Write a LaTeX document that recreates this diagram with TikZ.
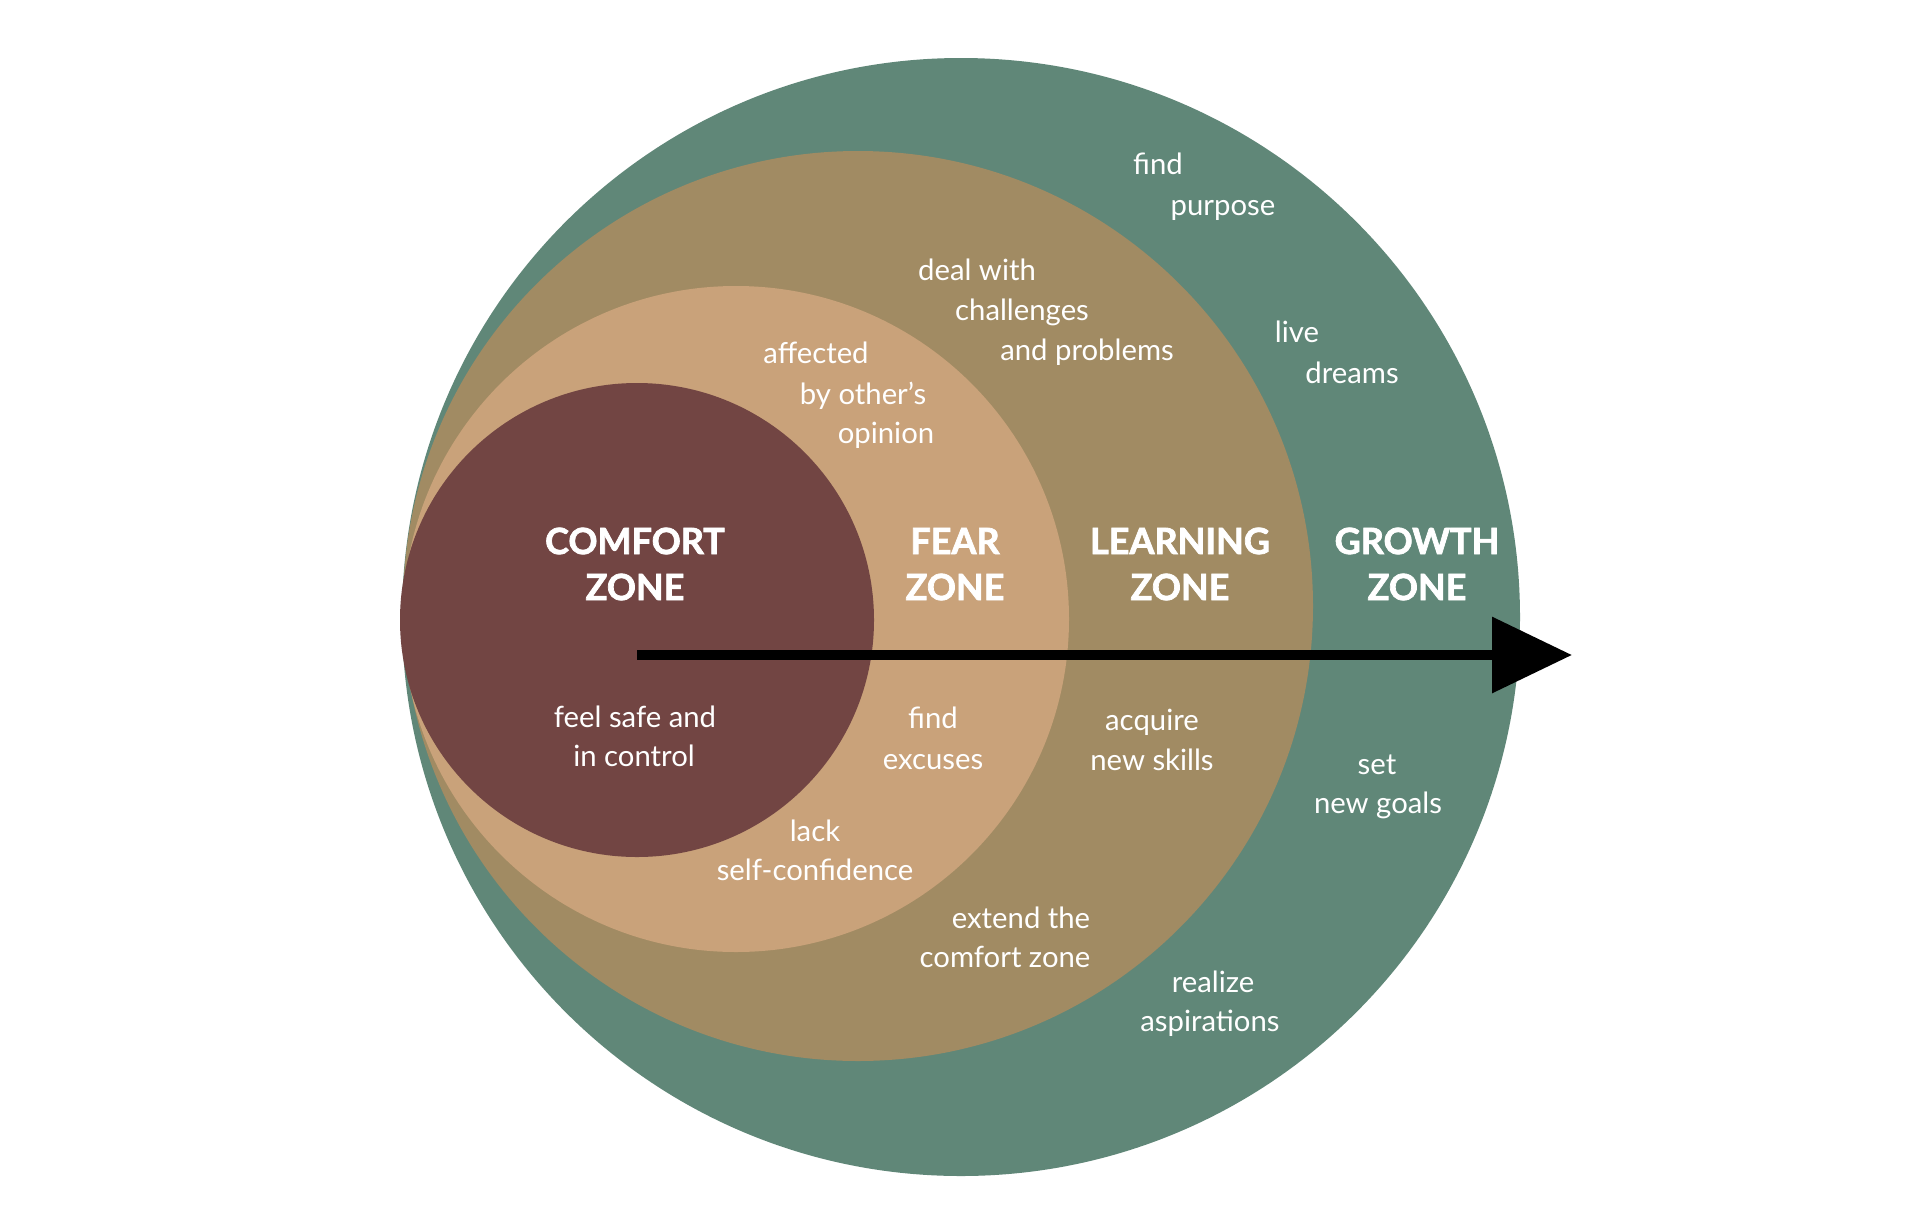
\documentclass[tikz,border=0pt]{standalone}
\usepackage{fontspec}
\setmainfont{Lato}
\newfontfamily\headfont{Lato}[BoldFeatures={FakeBold=2}]
\usetikzlibrary{arrows.meta}
\definecolor{growthc}{RGB}{96,135,120}
\definecolor{learnc}{RGB}{161,139,99}
\definecolor{fearc}{RGB}{201,162,122}
\definecolor{comfortc}{RGB}{114,69,67}
\tikzset{
  zone/.style={circle, inner sep=0pt, outer sep=0pt, draw=none, fill=#1},
  lbl/.style={text=white, inner sep=0pt, anchor=base, font=\fontsize{29.3}{36}\selectfont},
  head/.style={text=white, inner sep=0pt, anchor=base, font=\fontsize{36}{44}\selectfont\headfont\bfseries},
  growarrow/.style={line width=10pt, draw=black, -{Triangle[length=80pt,width=74pt]}}
}
\begin{document}
\begin{tikzpicture}[x=1pt,y=-1pt]
\useasboundingbox[fill=white] (0,0) rectangle (1906,1208);
% zones
\node[zone=growthc, minimum size=1118pt] (growth) at (961,617) {};
\node[zone=learnc, minimum size=910pt] (learning) at (858,606) {};
\node[zone=fearc, minimum size=666pt] (fear) at (736,619) {};
\node[zone=comfortc, minimum size=474pt] (comfort) at (637,620) {};
% headings
\node[head] (h1a) at (635,554) {COMFORT};
\node[head] (h1b) at (635,600) {ZONE};
\node[head] (h2a) at (955,554) {FEAR};
\node[head] (h2b) at (955,600) {ZONE};
\node[head] (h3a) at (1180,554) {LEARNING};
\node[head] (h3b) at (1180,600) {ZONE};
\node[head] (h4a) at (1417,554) {GROWTH};
\node[head] (h4b) at (1417,600) {ZONE};
% arrow
\coordinate (arrstart) at (637,655);
\coordinate (arrend) at (1572,655);
\draw[growarrow] (arrstart) -- (arrend);
% growth zone texts
\node[lbl] (t1) at (1158,174) {find};
\node[lbl] (t2) at (1223,215) {purpose};
\node[lbl] (t3) at (1297,342) {live};
\node[lbl] (t4) at (1352,383) {dreams};
\node[lbl] (t5) at (1377,774) {set};
\node[lbl] (t6) at (1378,813) {new goals};
\node[lbl] (t7) at (1213,992) {realize};
\node[lbl] (t8) at (1210,1031) {aspirations};
% learning zone texts
\node[lbl] (t9) at (977,280) {deal with};
\node[lbl] (t10) at (1022,320) {challenges};
\node[lbl] (t11) at (1087,360) {and problems};
\node[lbl] (t12) at (1152,730) {acquire};
\node[lbl] (t13) at (1152,770) {new skills};
\node[lbl] (t14) at (1021,928) {extend the};
\node[lbl] (t15) at (1005,967) {comfort zone};
% fear zone texts
\node[lbl] (t16) at (816,363) {affected};
\node[lbl] (t17) at (863,404) {by other’s};
\node[lbl] (t18) at (886,443) {opinion};
\node[lbl] (t19) at (933,728) {find};
\node[lbl] (t20) at (933,769) {excuses};
\node[lbl] (t21) at (815,841) {lack};
\node[lbl] (t22) at (815,880) {self-confidence};
% comfort zone texts
\node[lbl] (t23) at (635,727) {feel safe and};
\node[lbl] (t24) at (634,766) {in control};
\end{tikzpicture}
\end{document}
